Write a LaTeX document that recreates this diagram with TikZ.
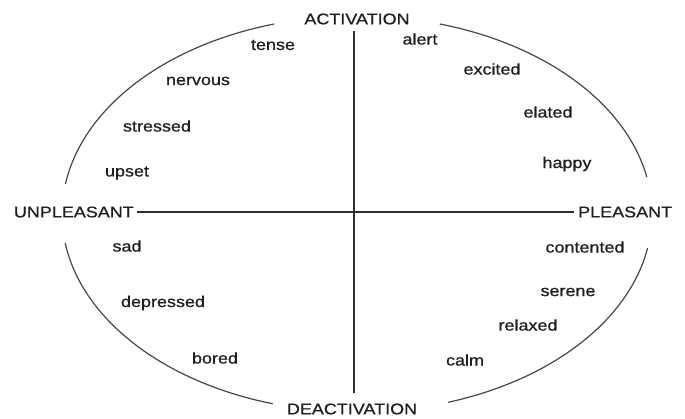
\documentclass[tikz,border=0pt]{standalone}
\usepackage{fontspec}
\setmainfont[FakeStretch=1.16,FakeBold=0.7]{Liberation Sans}
\begin{document}
\begin{tikzpicture}[x=1pt,y=-1pt,
  word/.style={inner sep=0pt, font=\fontsize{15.5}{18}\selectfont, text=black!88},
  curve/.style={line width=1.2pt, draw=black!72},
  axisline/.style={line width=1.7pt, draw=black!82}]
\useasboundingbox[fill=white] (0,0) rectangle (685,418);
% axis labels
\node[word] (act) at (357,19) {ACTIVATION};
\node[word] (deact) at (352,409) {DEACTIVATION};
\node[word,anchor=east] (unp) at (134,212) {UNPLEASANT};
\node[word,anchor=west] (pls) at (578,212) {PLEASANT};
% axes
\coordinate (vt) at (354,31);
\coordinate (vb) at (354,393);
\draw[axisline] (vt) -- (vb);
\draw[axisline, shorten <=2.5pt, shorten >=4.5pt] (unp.east) -- (pls.west);
% ellipse arcs
\draw[curve] plot[domain=106.3:171.3,samples=60] ({357+295*cos(\x)},{214-198*sin(\x)});
\draw[curve] plot[domain=10.8:73.7,samples=60] ({357+295*cos(\x)},{214-198*sin(\x)});
\draw[curve] plot[domain=188.4:253.4,samples=60] ({357+295*cos(\x)},{214-198*sin(\x)});
\draw[curve] plot[domain=-72:-9.9,samples=60] ({357+295*cos(\x)},{214-198*sin(\x)});
% words
\node[word] (tense) at (273,45) {tense};
\node[word] (nervous) at (198,81) {nervous};
\node[word] (stressed) at (157,126) {stressed};
\node[word] (upset) at (127,173) {upset};
\node[word] (alert) at (420,39) {alert};
\node[word] (excited) at (492,69) {excited};
\node[word] (elated) at (548,112) {elated};
\node[word] (happy) at (567,164) {happy};
\node[word] (sad) at (127,246) {sad};
\node[word] (depressed) at (163,303) {depressed};
\node[word] (bored) at (215,358) {bored};
\node[word] (contented) at (585,247) {contented};
\node[word] (serene) at (568,292) {serene};
\node[word] (relaxed) at (528,325) {relaxed};
\node[word] (calm) at (465,360) {calm};
\end{tikzpicture}
\end{document}
